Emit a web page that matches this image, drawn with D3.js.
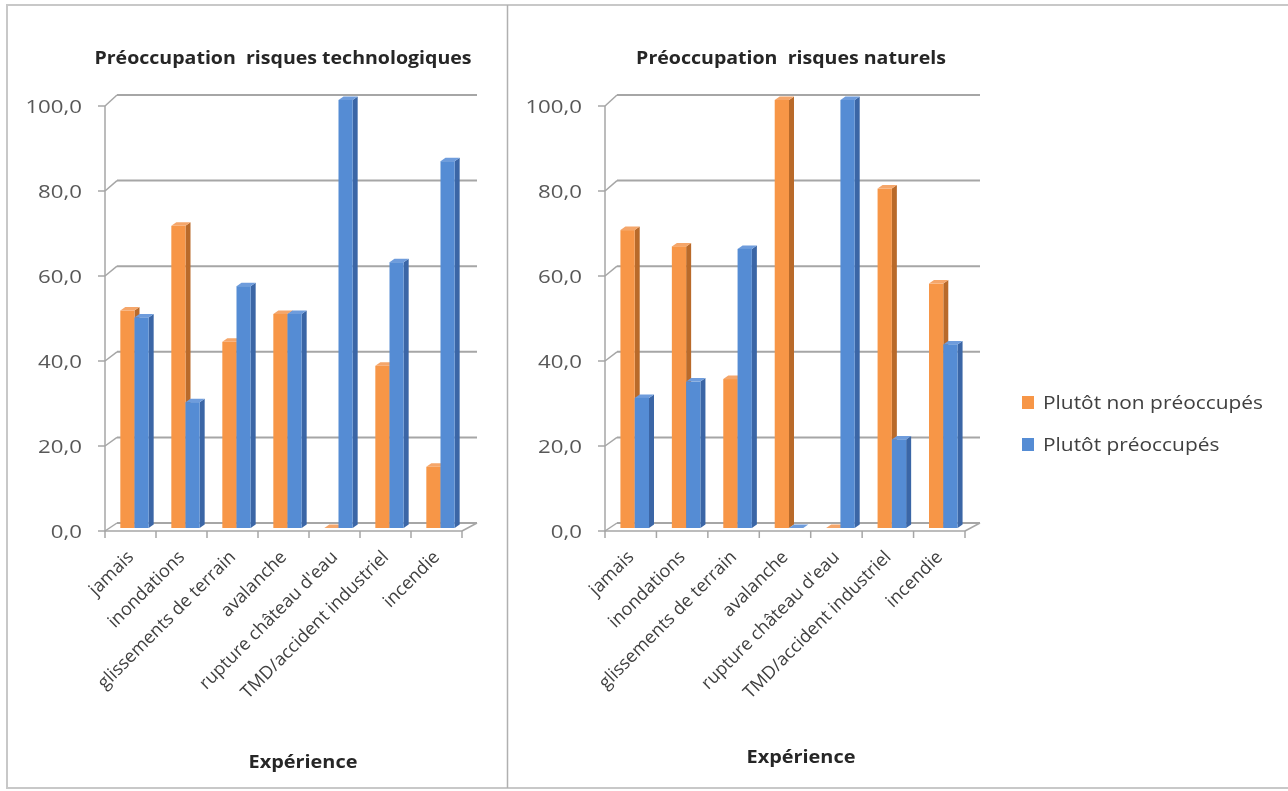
<!DOCTYPE html>
<html>
<head>
<meta charset="utf-8">
<script src="https://cdn.jsdelivr.net/npm/d3@7"></script>
<style>
  html, body { margin: 0; padding: 0; background: #ffffff; }
  svg { display: block; }
  text { font-family: "Open Sans", "Noto Sans", sans-serif; }
</style>
</head>
<body>
<svg id="chart" width="1288" height="791"></svg>
<script>
// Categories of prior experience
const categories = ["jamais", "inondations", "glissements de terrain", "avalanche",
  "rupture château d'eau", "TMD/accident industriel", "incendie"];
const seriesNames = ["Plutôt non préoccupés", "Plutôt préoccupés"];

// Technological risks (%)
const techNonPreoc = [50.8, 70.6, 43.5, 50.0, 0.0, 37.9, 14.3];
const techPreoc    = [49.2, 29.4, 56.5, 50.0, 100.0, 62.1, 85.7];

// Natural risks (%)
const natNonPreoc = [69.6, 65.8, 34.8, 100.0, 0.0, 79.3, 57.1];
const natPreoc    = [30.4, 34.2, 65.2, 0.0, 100.0, 20.7, 42.9];

const yTicks = [0, 20, 40, 60, 80, 100];
const panelTitles = ["Préoccupation  risques technologiques", "Préoccupation  risques naturels"];
const axisTitle = "Expérience";

const colors = {
  front: ["#F79646", "#558CD4"],
  side:  ["#B96A2C", "#3A66A6"],
  top:   ["#F5A66A", "#6E9CDC"]
};

// Widen a text element horizontally by factor k
function widen(sel, k) {
  sel.each(function () {
    const len = this.getComputedTextLength();
    d3.select(this).attr("textLength", len * k).attr("lengthAdjust", "spacingAndGlyphs");
  });
  return sel;
}

const svg = d3.select("#chart");
const defs = svg.append("defs");
defs.append("filter").attr("id", "soft")
  .append("feGaussianBlur").attr("stdDeviation", 0.55);

const root = svg.append("g").attr("filter", "url(#soft)");

// Outer frame and divider
const frameColor = "#c8c8c8";
root.append("rect").attr("x", 7).attr("y", 5).attr("width", 1290).attr("height", 783)
  .attr("fill", "none").attr("stroke", frameColor).attr("stroke-width", 2);
root.append("line").attr("x1", 507.5).attr("x2", 507.5).attr("y1", 5).attr("y2", 788)
  .attr("stroke", "#b0b0b0").attr("stroke-width", 1.5);

// Shared scales
const DX = 12;                    // depth offset of the back wall
const yFront = d3.scaleLinear().domain([0, 100]).range([531, 106]);
const yBack  = d3.scaleLinear().domain([0, 100]).range([523, 95]);
const yBar   = d3.scaleLinear().domain([0, 100]).range([528, 100]);
const fmt = v => d3.format(".1f")(v).replace(".", ",");

const panels = [
  { axisX: 105, width: 357, title: panelTitles[0], titleX: 283, axisTitleX: 303, axisTitleY: 768,
    values: [techNonPreoc, techPreoc] },
  { axisX: 605, width: 360, title: panelTitles[1], titleX: 791, axisTitleX: 801, axisTitleY: 763,
    values: [natNonPreoc, natPreoc] }
];

const gridColor = "#a6a6a6";

panels.forEach(p => {
  const g = root.append("g");
  const x = d3.scaleBand().domain(categories).range([p.axisX, p.axisX + p.width]);
  const xs = d3.scaleBand().domain(seriesNames).range([0, x.bandwidth()]).paddingOuter(0.8);
  const backRight = p.axisX + p.width + DX + 3;

  // Title
  widen(g.append("text").attr("x", p.titleX).attr("y", 64)
    .attr("text-anchor", "middle").attr("font-size", 17).attr("font-weight", 700)
    .attr("fill", "#262626").style("white-space", "pre")
    .text(p.title), 1.15);

  // Back-wall gridlines, wall diagonals and y ticks
  yTicks.forEach(t => {
    g.append("line").attr("x1", p.axisX + DX).attr("x2", backRight)
      .attr("y1", yBack(t)).attr("y2", yBack(t))
      .attr("stroke", gridColor).attr("stroke-width", 2);
    g.append("line").attr("x1", p.axisX).attr("x2", p.axisX + DX)
      .attr("y1", yFront(t)).attr("y2", yBack(t))
      .attr("stroke", gridColor).attr("stroke-width", 1.5);
    g.append("line").attr("x1", p.axisX - 7).attr("x2", p.axisX)
      .attr("y1", yFront(t)).attr("y2", yFront(t))
      .attr("stroke", gridColor).attr("stroke-width", 1.5);
    widen(g.append("text").attr("x", p.axisX - 23).attr("y", yFront(t) + 7)
      .attr("text-anchor", "end").attr("font-size", 19)
      .attr("fill", "#595959").text(fmt(t)), 1.17);
  });

  // Vertical axis line
  g.append("line").attr("x1", p.axisX).attr("x2", p.axisX)
    .attr("y1", yFront(100)).attr("y2", yFront(0) + 1)
    .attr("stroke", gridColor).attr("stroke-width", 1.5);

  // Floor front edge, right edge and category ticks
  g.append("line").attr("x1", p.axisX).attr("x2", p.axisX + p.width)
    .attr("y1", yFront(0)).attr("y2", yFront(0))
    .attr("stroke", gridColor).attr("stroke-width", 1.5);
  g.append("line").attr("x1", p.axisX + p.width).attr("x2", backRight)
    .attr("y1", yFront(0)).attr("y2", yBack(0))
    .attr("stroke", gridColor).attr("stroke-width", 1.5);
  categories.concat([null]).forEach(c => {
    const cx = c === null ? p.axisX + p.width : x(c);
    g.append("line").attr("x1", cx).attr("x2", cx)
      .attr("y1", yFront(0)).attr("y2", yFront(0) + 7)
      .attr("stroke", gridColor).attr("stroke-width", 1.5);
  });

  // 3D bars: right side, top, then front face
  const D = 5, DY = 3.5;
  categories.forEach((c, i) => {
    seriesNames.forEach((s, k) => {
      const v = p.values[k][i];
      const bx = x(c) + xs(s) + 4;
      const w = xs.bandwidth();
      const yt = yBar(v), yb = yBar(0);
      const bg = g.append("g");
      bg.append("polygon")
        .attr("points", [[bx + w, yt], [bx + w + D, yt - DY], [bx + w + D, yb - DY], [bx + w, yb]].join(" "))
        .attr("fill", colors.side[k]);
      bg.append("polygon")
        .attr("points", [[bx, yt], [bx + D, yt - DY], [bx + w + D, yt - DY], [bx + w, yt]].join(" "))
        .attr("fill", colors.top[k]);
      if (v > 0) {
        bg.append("rect").attr("x", bx).attr("y", yt).attr("width", w).attr("height", yb - yt)
          .attr("fill", colors.front[k]);
      }
    });
  });

  // Rotated category labels
  categories.forEach(c => {
    const cx = x(c) + x.bandwidth() / 2 + 4;
    g.append("text")
      .attr("transform", `translate(${cx},${yFront(0) + 27}) rotate(-45)`)
      .attr("text-anchor", "end").attr("font-size", 18)
      .attr("fill", "#404040").text(c);
  });

  // Axis title
  widen(g.append("text").attr("x", p.axisTitleX).attr("y", p.axisTitleY)
    .attr("text-anchor", "middle").attr("font-size", 17).attr("font-weight", 700)
    .attr("fill", "#262626").text(axisTitle), 1.17);
});

// Legend
const legend = root.append("g");
seriesNames.forEach((s, k) => {
  const ly = 403 + k * 42;
  legend.append("rect").attr("x", 1022).attr("y", ly - 7).attr("width", 12).attr("height", 13)
    .attr("fill", colors.front[k]);
  widen(legend.append("text").attr("x", 1043).attr("y", ly + 6)
    .attr("font-size", 18).attr("fill", "#404040").text(s), 1.16);
});
</script>
</body>
</html>
